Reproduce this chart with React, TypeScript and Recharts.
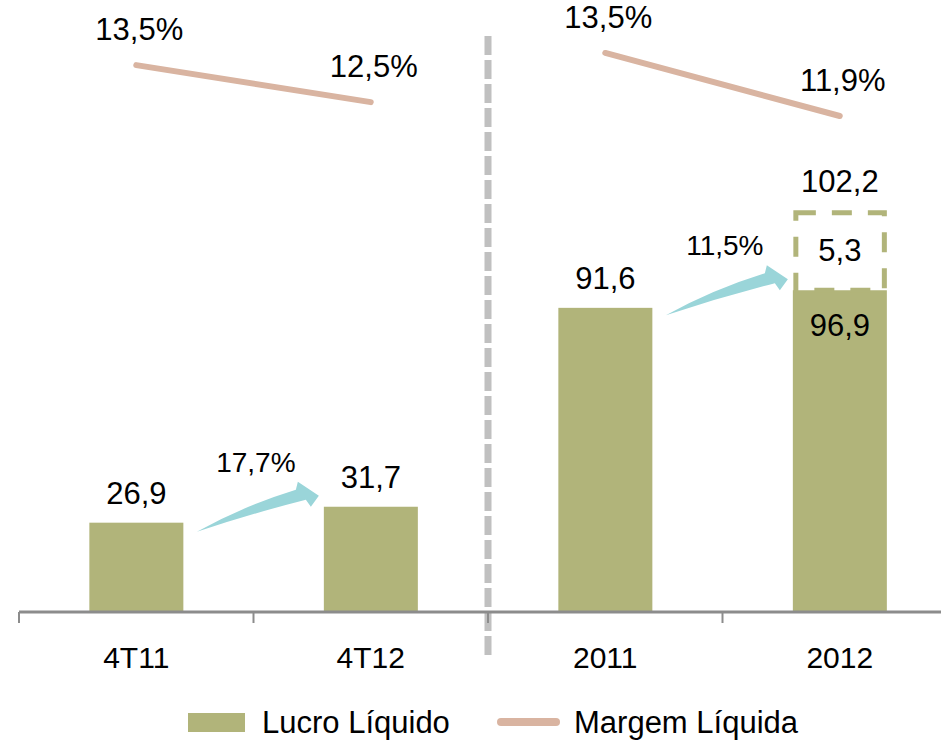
import React from 'react';
import { ComposedChart, Bar, Line, XAxis, YAxis, ReferenceLine, Legend, LabelList } from 'recharts';

// ---- data ----
const categories = ['4T11', '4T12', '2011', '2012'];
const lucroLiquido = [26.9, 31.7, 91.6, 96.9];
const ajusteNaoRecorrente: (number | null)[] = [null, null, null, 5.3];
const lucroTotal: (number | null)[] = [null, null, null, 102.2];
const margemTrimestral: (number | null)[] = [13.5, 12.5, null, null];
const margemAnual: (number | null)[] = [null, null, 13.5, 11.9];
const crescimento: (string | null)[] = [null, '17,7%', null, '11,5%'];

const data = categories.map((name, i) => ({
  name,
  lucro: lucroLiquido[i],
  ajuste: ajusteNaoRecorrente[i],
  total: lucroTotal[i],
  margemT: margemTrimestral[i],
  margemA: margemAnual[i],
  crescimento: crescimento[i],
}));

// ---- layout / style ----
const W = 960;
const H = 741;
const MARGIN = { top: 10, right: 3, bottom: 0, left: 19 };
const PLOT_W = W - MARGIN.left - MARGIN.right;
const BAND = PLOT_W / categories.length;

const FONT = '"Liberation Sans", Arial, Helvetica, sans-serif';
const OLIVE = '#B1B47A';
const ROSE = '#D9B4A1';
const CYAN = '#9AD5D9';
const AXIS_GRAY = '#8C8C8C';

const fmt = (v: number) => v.toFixed(1).replace('.', ',');

const LucroShape = (props: any) => {
  const { x, y, width, height, payload } = props;
  const tipX = x - 5;
  const tipY = y - 11;
  return (
    <g>
      <rect x={x} y={y} width={width} height={height} fill={OLIVE} />
      {payload && payload.crescimento ? (
        <g>
          <path
            transform={`translate(${tipX},${tipY})`}
            d="M-122,36 Q-75,10 -23,-6 L-21,-14 L0,0 L-8,11 L-13,4 Q-68,18 -122,36 Z"
            fill={CYAN}
          />
          <text
            x={tipX - 63}
            y={tipY - 34}
            dy="0.35em"
            textAnchor="middle"
            fontFamily={FONT}
            fontSize={28}
            fill="#000"
          >
            {payload.crescimento}
          </text>
        </g>
      ) : null}
    </g>
  );
};

const AjusteShape = (props: any) => {
  const { x, y, width, height, payload } = props;
  if (!payload || payload.ajuste == null) return null;
  const bottom = y + height;
  const boxH = Math.max(height, 80);
  const top = bottom - boxH;
  return (
    <g>
      <rect
        x={x + 3}
        y={top + 2.5}
        width={width - 5.5}
        height={boxH - 2.5}
        fill="none"
        stroke={OLIVE}
        strokeWidth={5}
        strokeDasharray="20 16"
      />
      <text x={x + width / 2} y={top + boxH / 2} dy="0.35em" textAnchor="middle" fontFamily={FONT} fontSize={31} fill="#000">
        {fmt(payload.ajuste)}
      </text>
      {payload.total != null ? (
        <text x={x + width / 2} y={top - 29} dy="0.35em" textAnchor="middle" fontFamily={FONT} fontSize={31} fill="#000">
          {fmt(payload.total)}
        </text>
      ) : null}
    </g>
  );
};

const LucroLabel = (props: any) => {
  const { x, y, width, value, index } = props;
  if (value == null) return null;
  const inside = data[index] && data[index].ajuste != null;
  const cy = inside ? y + 35 : y - 30;
  return (
    <text x={x + width / 2} y={cy} dy="0.35em" textAnchor="middle" fontFamily={FONT} fontSize={31} fill="#000">
      {fmt(value)}
    </text>
  );
};

const MargemLabel = (props: any) => {
  const { x, y, value } = props;
  if (value == null || x == null || y == null) return null;
  return (
    <text x={x + 3} y={y - 36} dy="0.35em" textAnchor="middle" fontFamily={FONT} fontSize={31} fill="#000">
      {fmt(value) + '%'}
    </text>
  );
};

const AxisTick = (props: any) => {
  const { x, y, payload } = props;
  return (
    <g>
      <line x1={x - BAND / 2} x2={x - BAND / 2} y1={y} y2={y + 11} stroke={AXIS_GRAY} strokeWidth={2} />
      <text x={x} y={y + 56} textAnchor="middle" fontFamily={FONT} fontSize={30} fill="#000">
        {payload.value}
      </text>
    </g>
  );
};

const Divider = (props: any) => {
  const { x1, y1, y2 } = props;
  const x = x1 - BAND / 2;
  const top = Math.min(y1, y2) + 26;
  const bottom = Math.max(y1, y2) + 44;
  return <line x1={x} x2={x} y1={top} y2={bottom} stroke="#C0C0C0" strokeWidth={7} strokeDasharray="19 5" />;
};

const LegendContent = (props: any) => {
  const items = (props.payload || []).filter((p: any) => p.type !== 'none');
  const xs = [188, 497];
  return (
    <svg width={941} height={60} style={{ display: 'block' }}>
      {items.map((p: any, i: number) => {
        const x0 = xs[i] ?? 188 + i * 309;
        const isLine = p.type === 'line';
        return (
          <g key={i}>
            {isLine ? (
              <line x1={x0 + 4} x2={x0 + 59} y1={41} y2={41} stroke={ROSE} strokeWidth={8} strokeLinecap="round" />
            ) : (
              <rect x={x0} y={32} width={57} height={19} fill={OLIVE} />
            )}
            <text x={x0 + (isLine ? 77 : 74)} y={52} fontFamily={FONT} fontSize={31} fill="#000">
              {p.value}
            </text>
          </g>
        );
      })}
    </svg>
  );
};

export default function App() {
  return (
    <div style={{ position: 'absolute', left: 0, top: 0, width: 941, height: 741, overflow: 'hidden', background: '#fff' }}>
      <ComposedChart width={W} height={H} data={data} margin={MARGIN} barCategoryGap="30%">
        <XAxis
          dataKey="name"
          xAxisId={0}
          interval={0}
          tickSize={0}
          tickMargin={0}
          tickLine={false}
          tick={<AxisTick />}
          axisLine={{ stroke: AXIS_GRAY, strokeWidth: 3 }}
          height={69}
        />
        <YAxis yAxisId="bar" hide domain={[0, 181.3]} />
        <YAxis yAxisId="mq" hide domain={[-1.28, 14.99]} />
        <YAxis yAxisId="ma" hide domain={[-0.69, 14.59]} />
        <ReferenceLine x="2011" xAxisId={0} yAxisId="bar" shape={<Divider />} />
        <Bar
          yAxisId="bar"
          dataKey="lucro"
          name="Lucro Líquido"
          stackId="lucro"
          fill={OLIVE}
          shape={<LucroShape />}
          isAnimationActive={false}
        >
          <LabelList dataKey="lucro" content={<LucroLabel />} />
        </Bar>
        <Bar
          yAxisId="bar"
          dataKey="ajuste"
          name="Ajuste"
          stackId="lucro"
          fill={OLIVE}
          legendType="none"
          shape={<AjusteShape />}
          isAnimationActive={false}
        />
        <Line
          yAxisId="mq"
          dataKey="margemT"
          name="Margem Líquida"
          stroke={ROSE}
          strokeWidth={6}
          strokeLinecap="round"
          dot={false}
          activeDot={false}
          connectNulls={false}
          isAnimationActive={false}
        >
          <LabelList dataKey="margemT" content={<MargemLabel />} />
        </Line>
        <Line
          yAxisId="ma"
          dataKey="margemA"
          name="Margem Líquida (ano)"
          stroke={ROSE}
          strokeWidth={6}
          strokeLinecap="round"
          dot={false}
          activeDot={false}
          connectNulls={false}
          legendType="none"
          isAnimationActive={false}
        >
          <LabelList dataKey="margemA" content={<MargemLabel />} />
        </Line>
        <Legend
          verticalAlign="bottom"
          content={<LegendContent />}
          wrapperStyle={{ left: 0, bottom: 0, width: 941, height: 60 }}
        />
      </ComposedChart>
    </div>
  );
}
